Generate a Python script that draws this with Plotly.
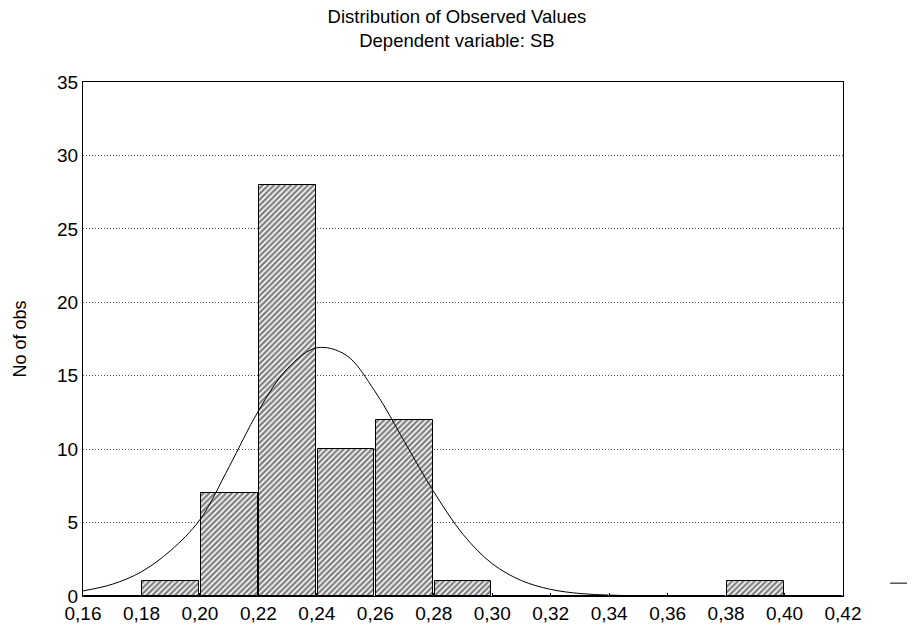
import plotly.graph_objects as go

# histogram bins (centres) and counts
bin_centres = [0.17, 0.19, 0.21, 0.23, 0.25, 0.27, 0.29, 0.31, 0.33, 0.35, 0.37, 0.39, 0.41]
counts = [0, 1, 7, 28, 10, 12, 1, 0, 0, 0, 0, 1, 0]

# expected normal curve
curve_x = [0.16, 0.17, 0.18, 0.19, 0.20, 0.21, 0.22, 0.23, 0.24, 0.25, 0.26, 0.27,
           0.28, 0.29, 0.30, 0.31, 0.32, 0.33, 0.34, 0.35, 0.36, 0.38, 0.40, 0.42]
curve_y = [0.35, 0.8, 1.65, 3.1, 5.2, 8.8, 12.6, 15.5, 16.9, 16.4, 13.9, 10.5,
           7.1, 4.2, 2.2, 1.05, 0.45, 0.17, 0.06, 0.02, 0.0, 0.0, 0.0, 0.0]

x_ticks = [0.16, 0.18, 0.20, 0.22, 0.24, 0.26, 0.28, 0.30, 0.32, 0.34, 0.36, 0.38, 0.40, 0.42]
y_ticks = [0, 5, 10, 15, 20, 25, 30, 35]

fig = go.Figure()

fig.add_trace(go.Bar(
    x=bin_centres,
    y=counts,
    width=0.0194,
    marker=dict(
        color='white',
        line=dict(color='black', width=1),
        pattern=dict(shape='/', fgcolor='black', bgcolor='white', size=4, solidity=0.6)
    ),
    showlegend=False
))

fig.add_trace(go.Scatter(
    x=curve_x,
    y=curve_y,
    mode='lines',
    line=dict(color='black', width=1, shape='spline'),
    showlegend=False
))

# page body has an 8px margin, so the figure is a bit smaller than the window
fig.update_layout(
    width=907,
    height=625,
    plot_bgcolor='white',
    paper_bgcolor='white',
    separators=',.',
    font=dict(family='Liberation Sans, Arial', size=19, color='black'),
    title=dict(
        text='Distribution of Observed Values<br>Dependent variable: SB',
        font=dict(size=18.5),
        x=0.492, xanchor='center', xref='paper',
        y=0.976, yanchor='top'
    ),
    xaxis=dict(
        range=[0.16, 0.42],
        tickvals=x_ticks,
        tickformat='.2f',
        showgrid=False,
        zeroline=False,
        showline=True, linecolor='black', linewidth=1, mirror=True,
        ticks='inside', ticklen=3, tickcolor='black',
        automargin=False
    ),
    yaxis=dict(
        range=[0, 35],
        tickvals=y_ticks,
        title=dict(text='No of obs', font=dict(size=18), standoff=25),
        showgrid=True, gridcolor='#555', griddash='1px,2px', gridwidth=1,
        zeroline=False,
        showline=True, linecolor='black', linewidth=1, mirror=True,
        ticks='',
        automargin=False
    ),
    bargap=0,
    margin=dict(l=75, r=72, t=74, b=37)
)

# stub of the legend line at the right edge
fig.add_shape(type='line', xref='paper', yref='paper',
              x0=1.062, x1=1.2, y0=0.025, y1=0.025,
              line=dict(color='black', width=1))

fig.write_html("out.html")
